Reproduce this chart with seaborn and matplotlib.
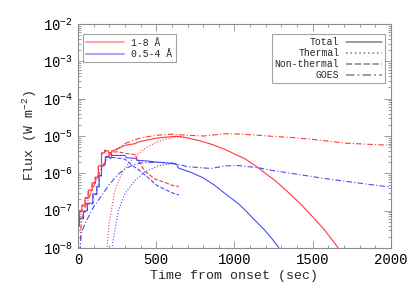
import numpy as np
import pandas as pd
import matplotlib
matplotlib.use('Agg')
import matplotlib.pyplot as plt
from matplotlib.lines import Line2D
from matplotlib.ticker import LogLocator, MultipleLocator, NullFormatter
import seaborn as sns

# ---- data (time in sec, log10 flux in W m^-2) ----
# total, 1-8 A (steps are encoded as repeated times)
red_total_t = [0, 8, 8, 25, 25, 45, 45, 65, 65, 90, 90, 110, 110, 130, 130, 150, 150, 170, 170,
               195, 200, 215, 215, 250, 300, 370, 375, 450, 500, 560, 620, 650, 700, 780, 860,
               939, 1000, 1067, 1152, 1200, 1259, 1310, 1365, 1420, 1472, 1525, 1578, 1642, 1680]
red_total_f = [-7.25, -7.25, -7.0, -7.0, -6.85, -6.85, -6.65, -6.65, -6.45, -6.45, -6.25, -6.25,
               -6.1, -6.1, -5.8, -5.8, -5.45, -5.45, -5.38, -5.4, -5.5, -5.5, -5.4, -5.35, -5.25,
               -5.2, -5.17, -5.1, -5.06, -5.03, -5.01, -5.01, -5.05, -5.13, -5.23, -5.36, -5.48,
               -5.61, -5.85, -6.01, -6.19, -6.38, -6.59, -6.81, -7.04, -7.28, -7.53, -7.88, -8.1]
# total, 0.5-4 A
blue_total_t = [0, 8, 8, 35, 35, 60, 60, 95, 95, 120, 120, 135, 135, 150, 150, 175, 175, 200, 205,
                210, 215, 300, 310, 370, 375, 450, 500, 560, 630, 640, 650, 720, 800, 870, 939,
                980, 1024, 1067, 1110, 1150, 1195, 1240, 1280, 1295]
blue_total_f = [-7.39, -7.39, -7.2, -7.2, -7.02, -7.0, -6.8, -6.8, -6.55, -6.55, -6.35, -6.35,
                -6.05, -6.05, -5.8, -5.75, -5.55, -5.55, -5.6, -5.6, -5.52, -5.52, -5.58, -5.6,
                -5.65, -5.67, -5.7, -5.72, -5.75, -5.85, -5.87, -5.97, -6.12, -6.31, -6.54,
                -6.67, -6.81, -6.98, -7.17, -7.34, -7.53, -7.75, -7.97, -8.1]

# thermal
red_th_t = [175, 185, 200, 236, 279, 321, 385, 449, 500, 560, 626, 680]
red_th_f = [-8.6, -8.0, -7.3, -6.45, -6.01, -5.74, -5.47, -5.28, -5.17, -5.08, -5.03, -5.04]
blue_th_t = [210, 220, 258, 300, 364, 428, 513, 598, 630]
blue_th_f = [-8.5, -7.9, -6.99, -6.54, -6.19, -5.96, -5.80, -5.74, -5.76]

# non-thermal
red_nt_t = [0, 8, 8, 25, 25, 45, 45, 65, 65, 90, 90, 110, 110, 130, 130, 150, 150, 170, 170,
            200, 250, 311, 370, 375, 430, 490, 560, 600, 645]
red_nt_f = [-7.27, -7.27, -7.02, -7.02, -6.87, -6.87, -6.67, -6.67, -6.47, -6.47, -6.27, -6.27,
            -6.12, -6.12, -5.82, -5.82, -5.47, -5.47, -5.4, -5.45, -5.42, -5.47, -5.5, -5.6,
            -5.95, -6.15, -6.25, -6.32, -6.35]
blue_nt_t = [0, 8, 8, 35, 35, 60, 60, 95, 95, 120, 120, 135, 135, 150, 150, 175, 175, 215, 300,
             350, 385, 450, 503, 556, 600, 645]
blue_nt_f = [-7.41, -7.41, -7.22, -7.22, -7.04, -7.02, -6.82, -6.82, -6.57, -6.57, -6.37, -6.37,
             -6.07, -6.07, -5.82, -5.77, -5.57, -5.57, -5.62, -5.8, -5.9, -6.12, -6.32, -6.43,
             -6.52, -6.58]

# GOES
red_goes_t = [13, 14, 20, 50, 100, 150, 200, 250, 300, 400, 500, 600, 700, 800, 939, 1050,
              1152, 1250, 1365, 1500, 1706, 1850, 2000]
red_goes_f = [-9.0, -8.0, -7.3, -6.85, -6.35, -5.85, -5.5, -5.35, -5.2, -5.05, -4.98, -4.95,
              -4.98, -5.0, -4.94, -4.95, -4.98, -5.01, -5.04, -5.09, -5.19, -5.22, -5.25]
blue_goes_t = [12, 14, 20, 50, 100, 150, 200, 250, 300, 350, 400, 500, 600, 700, 850, 939,
               1024, 1152, 1250, 1365, 1578, 1706, 1850, 2000]
blue_goes_f = [-9.0, -8.0, -7.6, -7.3, -6.9, -6.6, -6.3, -6.05, -5.88, -5.78, -5.72, -5.70,
               -5.72, -5.82, -5.87, -5.80, -5.79, -5.85, -5.93, -6.0, -6.14, -6.21, -6.29, -6.37]

band_labels = ['1-8 Å', '0.5-4 Å']
kind_labels = ['Total', 'Thermal', 'Non-thermal', 'GOES']

red = '#ff3a3a'
blue = '#4a4aff'
gray = '#8c8c8c'
dashdot = (0, (5, 2, 1, 2))

sns.set_style('ticks')
plt.rcParams['font.family'] = ['Liberation Mono', 'DejaVu Sans Mono']
plt.rcParams['mathtext.fontset'] = 'custom'
plt.rcParams['mathtext.rm'] = 'Liberation Mono'

fig = plt.figure(figsize=(4.15, 2.97), dpi=100)
ax = fig.add_axes([0.188, 0.165, 0.754, 0.754])

series = [
    (red_total_t, red_total_f, red, '-'),
    (blue_total_t, blue_total_f, blue, '-'),
    (red_th_t, red_th_f, red, ':'),
    (blue_th_t, blue_th_f, blue, ':'),
    (red_nt_t, red_nt_f, red, '--'),
    (blue_nt_t, blue_nt_f, blue, '--'),
    (red_goes_t, red_goes_f, red, dashdot),
    (blue_goes_t, blue_goes_f, blue, dashdot),
]
for t, f, c, ls in series:
    d = pd.DataFrame({'t': t, 'flux': 10.0 ** np.array(f)})
    sns.lineplot(data=d, x='t', y='flux', ax=ax, color=c, lw=0.8, sort=False,
                 estimator=None, linestyle=ls)

ax.set_yscale('log')
ax.set_xlim(0, 2000)
ax.set_ylim(1e-8, 1e-2)
ax.xaxis.set_major_locator(MultipleLocator(500))
ax.xaxis.set_minor_locator(MultipleLocator(100))
ax.yaxis.set_minor_locator(LogLocator(base=10, subs=np.arange(2, 10), numticks=10))
ax.yaxis.set_minor_formatter(NullFormatter())
ax.set_yticks([1e-8, 1e-7, 1e-6, 1e-5, 1e-4, 1e-3, 1e-2])
ax.set_yticklabels([r'10$^{%d}$' % e for e in range(-8, -1)])

ax.tick_params(which='both', direction='in', top=True, right=True, colors=gray,
               labelcolor='black', labelsize=10, width=0.6)
ax.tick_params(which='major', length=5)
ax.tick_params(which='minor', length=2.5)
for s in ax.spines.values():
    s.set_color(gray)
    s.set_linewidth(0.8)

ax.set_xlabel('Time from onset (sec)', fontsize=9.5, labelpad=2)
ax.set_ylabel(r'Flux (W m$^{-2}$)', fontsize=9.5, labelpad=3)

h1 = [Line2D([], [], color='#ffa8a8', lw=1.5), Line2D([], [], color='#a8a8ff', lw=1.5)]
leg1 = ax.legend(h1, band_labels, loc='upper left', bbox_to_anchor=(0.016, 0.955),
                 fontsize=7, frameon=True, fancybox=False, edgecolor=gray,
                 handlelength=3.9, handletextpad=0.7, borderpad=0.35, labelspacing=0.15,
                 borderaxespad=0)
leg1.get_frame().set_linewidth(0.8)
ax.add_artist(leg1)

h2 = [Line2D([], [], color=gray, lw=1.2, linestyle=ls) for ls in ['-', ':', '--', dashdot]]
leg2 = ax.legend(h2, kind_labels, loc='upper right', bbox_to_anchor=(0.981, 0.955),
                 fontsize=7, frameon=True, fancybox=False, edgecolor=gray,
                 handlelength=3.7, handletextpad=0.7, borderpad=0.3, labelspacing=0.1,
                 markerfirst=False, borderaxespad=0)
leg2.get_frame().set_linewidth(0.8)
for txt in leg2.get_texts():
    txt.set_ha('right')
leg2._legend_box.align = 'right'

fig.savefig('out.png', dpi=100)
